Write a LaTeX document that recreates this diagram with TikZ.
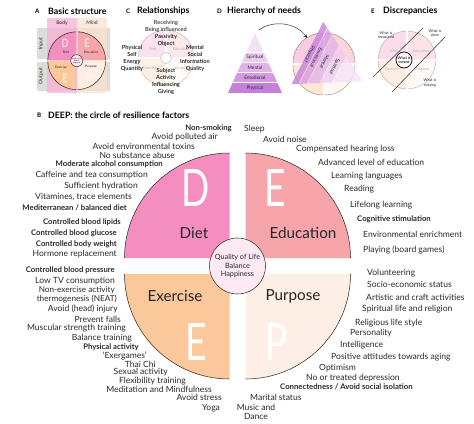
\documentclass[tikz,border=0pt]{standalone}
\usepackage{fontspec}
\setmainfont{Lato}
\newfontfamily\letterfont{Lato}[FakeStretch=0.72]
\usetikzlibrary{calc, arrows, positioning}

\definecolor{DietPink}{HTML}{F48EC0}
\definecolor{EduPink}{HTML}{F6A5AA}
\definecolor{ExPeach}{HTML}{FBC89C}
\definecolor{PurCream}{HTML}{FDEEE6}
\definecolor{CoreFill}{HTML}{FCE9F1}
\definecolor{Outline}{HTML}{3A2A22}
\definecolor{TextGrey}{HTML}{2A2A2A}
\definecolor{BodyCol}{HTML}{F7B2D4}
\definecolor{MindCol}{HTML}{FCE2CF}
\definecolor{RowGrey}{HTML}{DCDCDA}
\definecolor{PyrTop}{HTML}{F5E1F4}
\definecolor{PyrSpirit}{HTML}{EECCEF}
\definecolor{PyrMental}{HTML}{E3B3EA}
\definecolor{PyrEmo}{HTML}{D69AE4}
\definecolor{PyrPhys}{HTML}{C580DC}

\tikzstyle{factor} = [font=\fontsize{7.3}{7.6}\selectfont, text=TextGrey, inner sep=0pt]
\tikzstyle{keyfactor} = [factor, font=\fontsize{6.6}{7}\selectfont\bfseries]
\tikzstyle{left factor} = [factor, anchor=east]
\tikzstyle{right factor} = [factor, anchor=west]
\tikzstyle{paneltitle} = [font=\fontsize{7.5}{8}\selectfont\bfseries, anchor=west, inner sep=0pt]
\tikzstyle{panelletter} = [font=\fontsize{5.3}{6}\selectfont\bfseries, anchor=west, inner sep=0pt]
\tikzstyle{quadlabel} = [font=\fontsize{13}{14}\selectfont, text=black!85, inner sep=0pt]
\tikzstyle{bigletter} = [font=\letterfont\fontsize{44}{44}\selectfont, text=white, inner sep=0pt]
\tikzstyle{minorletter} = [font=\letterfont\fontsize{10}{10}\selectfont, text=white, inner sep=0pt]
\tikzstyle{small} = [font=\fontsize{4.3}{5}\selectfont, text=TextGrey, inner sep=0pt]
\tikzstyle{tiny} = [font=\fontsize{2.8}{3.2}\selectfont, text=TextGrey, inner sep=0pt]
\tikzstyle{relation} = [font=\fontsize{4.8}{6}\selectfont\bfseries, text=TextGrey, align=center, inner sep=0pt]
\tikzstyle{faded} = [font=\fontsize{3.2}{3.6}\selectfont, text=black!30, inner sep=0pt]
\tikzstyle{level} = [font=\fontsize{4.1}{5}\selectfont, text=TextGrey, inner sep=0pt]
\tikzstyle{gap} = [font=\fontsize{3.2}{3.6}\selectfont, text=TextGrey, align=center, inner sep=0pt]
\tikzstyle{arcline} = [draw=Outline, line width=0.45pt]
\tikzstyle{cut} = [draw=black!75, line width=0.5pt]
\tikzstyle{arrow} = [thin,->,>=stealth]

% the four DEEP quadrants: centre, radius, half gap, options
\newcommand{\deepcircle}[4]{%
  \begin{scope}[#4]
    \fill[DietPink] ($(#1)+(-#3,-#3)$) -- ++(-#2,0) arc (180:270:#2) -- cycle;
    \fill[EduPink] ($(#1)+(#3,-#3)$) -- ++(0,-#2) arc (270:360:#2) -- cycle;
    \fill[ExPeach] ($(#1)+(-#3,#3)$) -- ++(-#2,0) arc (180:90:#2) -- cycle;
    \fill[PurCream] ($(#1)+(#3,#3)$) -- ++(#2,0) arc (0:90:#2) -- cycle;
    \draw[arcline] ($(#1)+(-#3-#2,-#3)$) arc (180:270:#2);
    \draw[arcline] ($(#1)+(#3,-#3-#2)$) arc (270:360:#2);
    \draw[arcline] ($(#1)+(-#3-#2,#3)$) arc (180:90:#2);
    \draw[arcline] ($(#1)+(#3+#2,#3)$) arc (0:90:#2);
  \end{scope}}

\begin{document}
\begin{tikzpicture}[x=0.03cm, y=-0.03cm]
\useasboundingbox (0,0) rectangle (474,424);
\fill[white] (0,0) rectangle (474,424);

% A
\node (LetterA) [panelletter] at (35,11) {A};
\node (HeadA) [paneltitle] at (48,11) {Basic structure};
\fill[RowGrey] (37,28) rectangle (110,59.5);
\fill[RowGrey] (37,62) rectangle (110,91);
\fill[BodyCol, opacity=0.75] (47,18) rectangle (76.5,93);
\fill[MindCol, opacity=0.75] (77,18) rectangle (107,93);
\node (Body) [small] at (62,23) {Body};
\node (Mind) [small] at (92,23) {Mind};
\node (Input) [small, rotate=90] at (41,44) {Input};
\node (Output) [small, rotate=90] at (41,76) {Output};
\coordinate (BasicCenter) at (76.7,60.7);
\deepcircle{BasicCenter}{28}{0.8}{}
\node (BasicD) [minorletter] at (65,43) {D};
\node (BasicE) [minorletter] at (87,43) {E};
\node (BasicEx) [minorletter] at (65,78) {E};
\node (BasicP) [minorletter] at (89,78) {P};
\node (BasicDiet) [tiny] at (66,52) {Diet};
\node (BasicEdu) [tiny] at (91,52) {Education};
\node (BasicExercise) [tiny] at (61,67) {Exercise};
\node (BasicPurpose) [tiny] at (91,67) {Purpose};
\node (BasicCore) [circle, draw=Outline, fill=CoreFill, minimum size=0.36cm, inner sep=0pt, align=center, font=\fontsize{1.4}{1.6}\selectfont] at (BasicCenter) {Quality of Life\\Balance\\Happiness};

% C
\node (LetterC) [panelletter] at (126,11) {C};
\node (HeadC) [paneltitle] at (137,11) {Relationships};
\coordinate (RelCenter) at (166,58);
\deepcircle{RelCenter}{27}{0.8}{opacity=0.25}
\node (RelDiet) [faded] at (153,49) {Diet};
\node (RelEdu) [faded] at (181,49) {Education};
\node (RelEx) [faded] at (150,68) {Exercise};
\node (RelPur) [faded] at (182,68) {Purpose};
\node (RelCore) [circle, draw=black!25, fill=white, minimum size=0.33cm, inner sep=0pt] at (RelCenter) {};
\node (RelTop) [relation] at (166,33) {\textcolor{black!70}{Receiving}\\\textcolor{black!70}{Being influenced}\\Passivity\\Object};
\node (RelLeft) [relation] at (132,58.5) {Physical\\Self\\Energy\\Quantity};
\node (RelRight) [relation] at (195,58.5) {Mental\\Social\\Information\\Quality};
\node (RelBottom) [relation] at (166,81.5) {Subject\\Activity\\Influencing\\Giving};

% D
\node (LetterD) [panelletter] at (217,11) {D};
\node (HeadD) [paneltitle] at (227,11) {Hierarchy of needs};
\coordinate (PyrApex) at (255,33);
\coordinate (PyrLeft) at (228,93);
\coordinate (PyrRight) at (282,93);
\begin{scope}
  \clip (PyrApex) -- (PyrLeft) -- (PyrRight) -- cycle;
  \fill[PyrTop] (220,30) rectangle (290,52.2);
  \fill[PyrSpirit] (220,53) rectangle (290,62.2);
  \fill[PyrMental] (220,63) rectangle (290,72.2);
  \fill[PyrEmo] (220,73) rectangle (290,82.2);
  \fill[PyrPhys] (220,83) rectangle (290,94);
\end{scope}
\node (Spiritual) [level] at (255,57.6) {Spiritual};
\node (Mental) [level] at (255,67.6) {Mental};
\node (Emotional) [level] at (255,77.6) {Emotional};
\node (Physical) [level] at (255,88.2) {Physical};
\coordinate (NeedsCenter) at (324,64);
\deepcircle{NeedsCenter}{30}{1}{opacity=0.45}
\begin{scope}[shift={(327,63)}, rotate=-117, opacity=0.8]
  \clip (0,-40) -- (-35,22) -- (35,22) -- cycle;
  \fill[PyrTop] (-40,-45) rectangle (40,-14.2);
  \fill[PyrSpirit] (-40,-13.4) rectangle (40,-3.2);
  \fill[PyrMental] (-40,-2.4) rectangle (40,7.8);
  \fill[PyrEmo] (-40,8.6) rectangle (40,15.2);
  \fill[PyrPhys] (-40,16) rectangle (40,25);
\end{scope}
\begin{scope}[shift={(327,63)}, rotate=-117]
  \node (RotSpiritual) [level, transform shape] at (0,-8.3) {Spiritual};
  \node (RotMental) [level, transform shape] at (0,2.7) {Mental};
  \node (RotEmotional) [level, transform shape] at (0,11.9) {Emotional};
  \node (RotPhysical) [level, transform shape] at (0,19.6) {Physical};
\end{scope}
\coordinate (ArrowFrom) at (259,30);
\coordinate (ArrowTo) at (307,38);
\draw[arrow, TextGrey] (ArrowFrom) .. controls (272,20) and (296,22) .. (ArrowTo);

% E
\node (LetterE) [panelletter] at (371,11) {E};
\node (HeadE) [paneltitle] at (383,11) {Discrepancies};
\coordinate (GapCenter) at (407,60);
\deepcircle{GapCenter}{28}{0.8}{opacity=0.3}
\node (GapDiet) [faded] at (394,51) {Diet};
\node (GapEdu) [faded] at (421,51) {Education};
\node (GapEx) [faded] at (392,69) {Exercise};
\node (GapPur) [faded] at (422,69) {Purpose};
\coordinate (CutA1) at (373,77);
\coordinate (CutA2) at (423,28);
\coordinate (CutB1) at (392,92);
\coordinate (CutB2) at (445,37);
\draw[cut] (CutA1) -- (CutA2);
\draw[cut] (CutB1) -- (CutB2);
\node (Meant) [gap, circle, draw=black, line width=0.6pt, fill=white, minimum size=0.48cm, font=\fontsize{3.2}{3.6}\selectfont\bfseries] at (404,60) {What is\\meant};
\node (Measured) [gap] at (386,35) {What is\\measured};
\node (Done) [gap] at (435,33) {What is\\done};
\node (Missing) [gap] at (430,83) {What is\\missing};

% B
\node (LetterB) [panelletter] at (37,115) {B};
\node (HeadB) [paneltitle] at (48,115) {DEEP: the circle of resilience factors};
\coordinate (MainCenter) at (237.5,266);
\deepcircle{MainCenter}{105}{8}{}
\node (BigD) [bigletter] at (196,188) {D};
\node (BigE) [bigletter] at (275,188) {E};
\node (BigEx) [bigletter] at (196,342) {E};
\node (BigP) [bigletter] at (277,342) {P};
\node (Diet) [quadlabel] at (194,233) {Diet};
\node (Education) [quadlabel] at (303,233) {Education};
\node (Exercise) [quadlabel] at (175,296) {Exercise};
\node (Purpose) [quadlabel] at (293,296) {Purpose};
\node (Core) [circle, draw=Outline, line width=0.45pt, fill=CoreFill, minimum size=1.68cm, inner sep=0pt, align=center, font=\fontsize{6.2}{7.6}\selectfont, text=TextGrey] at (MainCenter) {Quality of Life\\Balance\\Happiness};

% diet and exercise factors
\node (NonSmoking) [left factor, keyfactor] at (232,128) {Non-smoking};
\node (AvoidAir) [left factor] at (218,137) {Avoid polluted air};
\node (AvoidToxins) [left factor] at (195,146) {Avoid environmental toxins};
\node (NoAbuse) [left factor] at (175,155) {No substance abuse};
\node (Alcohol) [left factor, keyfactor] at (163,164) {Moderate alcohol consumption};
\node (Caffeine) [left factor] at (148,175) {Caffeine and tea consumption};
\node (Hydration) [left factor] at (138,186) {Sufficient hydration};
\node (Vitamines) [left factor] at (132,197) {Vitamines, trace elements};
\node (MedDiet) [left factor, keyfactor] at (127,208) {Mediterranean / balanced diet};
\node (Lipids) [left factor, keyfactor] at (121,222) {Controlled blood lipids};
\node (Glucose) [left factor, keyfactor] at (117,233) {Controlled blood glucose};
\node (Weight) [left factor, keyfactor] at (117,244) {Controlled body weight};
\node (Hormone) [left factor] at (117,254) {Hormone replacement};
\node (Pressure) [left factor, keyfactor] at (115,270) {Controlled blood pressure};
\node (LowTV) [left factor] at (115,281) {Low TV consumption};
\node (NEAT) [left factor, align=center, font=\fontsize{7}{6}\selectfont] at (117,295) {Non-exercise activity\\thermogenesis (NEAT)};
\node (HeadInjury) [left factor] at (118,309) {Avoid (head) injury};
\node (Falls) [left factor] at (121,319) {Prevent falls};
\node (Strength) [left factor] at (126,328) {Muscular strength training};
\node (Balance) [left factor] at (132,338) {Balance training};
\node (PhysAct) [left factor, keyfactor] at (139,347) {Physical activity};
\node (Exergames) [left factor] at (147,356) {`Exergames'};
\node (ThaiChi) [left factor] at (156,364) {Thai Chi};
\node (Sexual) [left factor] at (168,372) {Sexual activity};
\node (Flexibility) [left factor] at (186,381) {Flexibility training};
\node (Meditation) [left factor] at (212,389) {Meditation and Mindfulness};
\node (AvoidStress) [left factor] at (222,397) {Avoid stress};
\node (Yoga) [factor] at (211,408) {Yoga};
\node (Music) [factor, align=center, font=\fontsize{7.3}{8}\selectfont] at (256,412) {Music and\\Dance};

% education and purpose factors
\node (Sleep) [right factor] at (244,129) {Sleep};
\node (AvoidNoise) [right factor] at (263,139) {Avoid noise};
\node (Hearing) [right factor] at (296,149) {Compensated hearing loss};
\node (AdvEducation) [right factor] at (318,162) {Advanced level of education};
\node (Languages) [right factor] at (331,176) {Learning languages};
\node (Reading) [right factor] at (344,189) {Reading};
\node (Lifelong) [right factor] at (350,205) {Lifelong learning};
\node (Cognitive) [right factor, keyfactor] at (357,219) {Cognitive stimulation};
\node (Enrichment) [right factor] at (363,234) {Environmental enrichment};
\node (Playing) [right factor] at (363,250) {Playing (board games)};
\node (Volunteering) [right factor] at (367,273) {Volunteering};
\node (SocioEco) [right factor] at (367,284) {Socio-economic status};
\node (Artistic) [right factor] at (366,297) {Artistic and craft activities};
\node (Spiritual) [right factor] at (362,309) {Spiritual life and religion};
\node (Religious) [right factor] at (355,323) {Religious life style};
\node (Personality) [right factor] at (350,333) {Personality};
\node (Intelligence) [right factor] at (340,345) {Intelligence};
\node (Attitudes) [right factor] at (331,357) {Positive attitudes towards aging};
\node (Optimism) [right factor] at (319,368) {Optimism};
\node (Depression) [right factor] at (306,378) {No or treated depression};
\node (Connected) [right factor, keyfactor] at (280,387) {Connectedness / Avoid social isolation};
\node (Marital) [right factor] at (250,397) {Marital status};
\end{tikzpicture}
\end{document}
